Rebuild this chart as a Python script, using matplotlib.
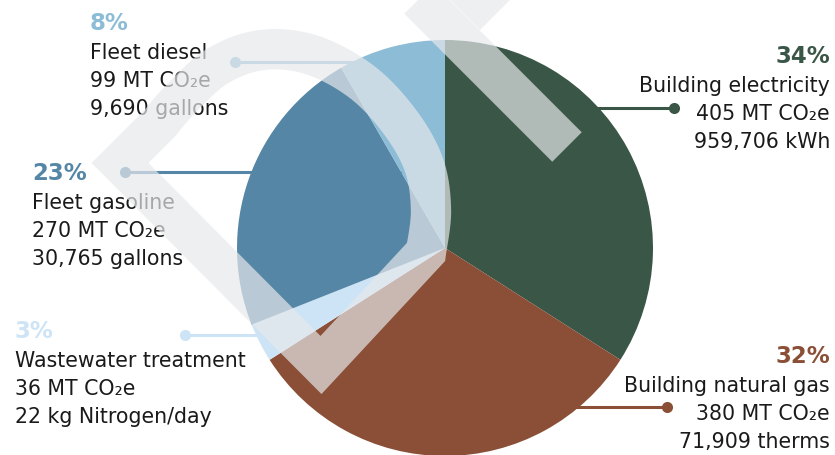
import numpy as np
import matplotlib
matplotlib.use("Agg")
import matplotlib.pyplot as plt
from matplotlib.path import Path
from matplotlib.patches import PathPatch, Polygon

W, H = 835, 455

categories = ["Building electricity", "Building natural gas", "Wastewater treatment",
              "Fleet gasoline", "Fleet diesel"]
emissions_mt = [405, 380, 36, 270, 99]
activity = ["959,706 kWh", "71,909 therms", "22 kg Nitrogen/day",
            "30,765 gallons", "9,690 gallons"]
colors = ["#3a5647", "#8a4f36", "#cde4f6", "#5686a6", "#8dbcd7"]

# label blocks (pixels from the top-left corner)
label_x = [830, 830, 15, 32, 90]
label_ha = ["right", "right", "left", "left", "left"]
label_top = [63, 363, 338, 180, 30]
dot_xy = [(674, 108), (667, 407), (185, 335), (125, 172), (235, 62)]

pie_center = (445, 248)
pie_radius = 208

text_color = "#1a1a1a"
wm_color = (230 / 255, 232 / 255, 235 / 255)
wm_alpha = 0.69


def Y(y):
    return H - y


def smooth(points, n=14):
    # catmull-rom through the given points
    pts = np.asarray(points, float)
    P = np.vstack([pts[0], pts, pts[-1]])
    out = []
    for i in range(1, len(P) - 2):
        p0, p1, p2, p3 = P[i - 1], P[i], P[i + 1], P[i + 2]
        for t in np.linspace(0, 1, n, endpoint=False):
            t2, t3 = t * t, t * t * t
            out.append(0.5 * (2 * p1 + (-p0 + p2) * t
                              + (2 * p0 - 5 * p1 + 4 * p2 - p3) * t2
                              + (-p0 + 3 * p1 - 3 * p2 + p3) * t3))
    out.append(pts[-1])
    return np.array(out)


fig = plt.figure(figsize=(W / 100, H / 100), dpi=100)
ax = fig.add_axes([0, 0, 1, 1])

ax.pie(emissions_mt, colors=colors, startangle=90, counterclock=False,
       center=(pie_center[0], Y(pie_center[1])), radius=pie_radius,
       wedgeprops=dict(linewidth=0), frame=False)

total = sum(emissions_mt)
for i, name in enumerate(categories):
    col = colors[i]
    dx, dy = dot_xy[i]
    # leader runs under the pie, so only the outside part shows
    ax.plot([dx, pie_center[0]], [Y(dy), Y(dy)], color=col, lw=2.2,
            solid_capstyle="butt", zorder=0.5)
    ax.plot(dx, Y(dy), "o", color=col, ms=8, mew=0, zorder=3)

    pct = round(emissions_mt[i] / total * 100)
    top = label_top[i]
    ax.text(label_x[i], Y(top), f"{pct}%", ha=label_ha[i], va="baseline",
            fontsize=16.5, fontweight="bold", color=col, zorder=3)
    lines = [name, f"{emissions_mt[i]} MT CO\u2082e", activity[i]]
    for k, line in enumerate(lines):
        ax.text(label_x[i], Y(top + 29 + 28 * k), line, ha=label_ha[i],
                va="baseline", fontsize=14.8, color=text_color, zorder=3)

# translucent logo mark laid over the chart
crescent = smooth([(426, 252), (431, 210), (424, 165), (400, 122), (362, 82),
                   (312, 55), (262, 50), (216, 67), (178, 102), (160, 123)])
loop = np.vstack([[(120, 163), (321, 365)], crescent, [(120, 163)]])
loop[:, 1] = H - loop[:, 1]
codes = [Path.MOVETO] + [Path.LINETO] * (len(loop) - 2) + [Path.CLOSEPOLY]
ax.add_patch(PathPatch(Path(loop, codes), fill=False, lw=29,
                       edgecolor=wm_color, alpha=wm_alpha,
                       joinstyle="miter", zorder=5))
ax.plot([395, 567], [Y(-25), Y(147)], lw=30, color=wm_color, alpha=wm_alpha,
        solid_capstyle="butt", zorder=5)
ax.add_patch(Polygon([(450, Y(0)), (480, Y(30)), (530, Y(-20)), (500, Y(-50))],
                     closed=True, facecolor=wm_color, edgecolor="none",
                     alpha=wm_alpha, zorder=5))

ax.set_xlim(0, W)
ax.set_ylim(0, H)
ax.set_aspect("equal")
ax.axis("off")

fig.savefig("out.png", dpi=100, facecolor="white")
